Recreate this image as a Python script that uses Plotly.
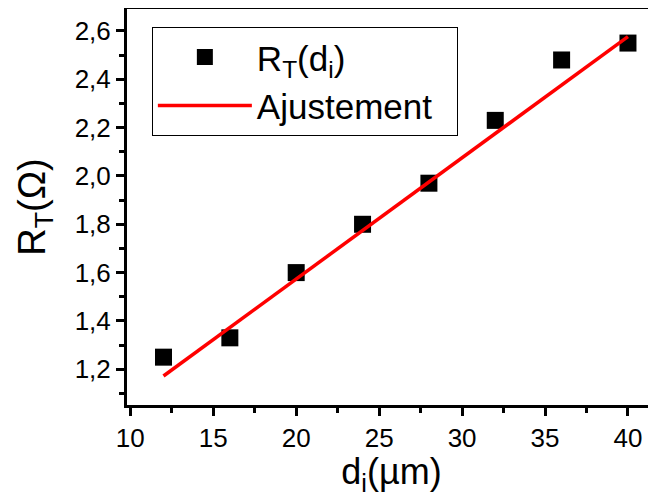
import plotly.graph_objects as go

d_i = [12, 16, 20, 24, 28, 32, 36, 40]
R_T = [1.25, 1.33, 1.60, 1.80, 1.97, 2.23, 2.48, 2.55]
fit_x = [12, 40]
fit_y = [1.172, 2.577]

FONT = "Liberation Sans, Arial, sans-serif"

fig = go.Figure()
fig.add_trace(go.Scatter(x=d_i, y=R_T, mode="markers", name="R<sub>T</sub>(d<sub>i</sub>)",
                         marker=dict(symbol="square", size=17, color="black")))
fig.add_trace(go.Scatter(x=fit_x, y=fit_y, mode="lines", name="Ajustement\u00a0\u00a0",
                         line=dict(color="red", width=3.5)))

# page body has an 8px margin, so the figure is sized/placed to compensate
fig.update_layout(
    width=648, height=489,
    margin=dict(l=119, r=0, t=1, b=92),
    paper_bgcolor="white", plot_bgcolor="white",
    separators=",.",
    font=dict(family=FONT, color="black"),
    showlegend=True,
    legend=dict(x=0.047, y=0.955, xanchor="left", yanchor="top",
                bordercolor="black", borderwidth=1, bgcolor="white",
                font=dict(size=35, family=FONT), itemwidth=94, tracegroupgap=0),
)
fig.update_xaxes(range=[9.80, 41.69], tickmode="linear", tick0=10, dtick=5,
                 showline=True, linecolor="black", linewidth=3, mirror=True,
                 ticks="outside", ticklen=8, tickwidth=2.5, tickcolor="black",
                 tickfont=dict(size=26), showgrid=False, zeroline=False, automargin=False,
                 minor=dict(ticks="outside", ticklen=5, tickwidth=2.5, tickcolor="black", dtick=2.5, showgrid=False),
                 title=dict(text="d<sub>i</sub>(µm)", font=dict(size=36), standoff=4))
fig.update_yaxes(range=[1.052, 2.691], tickmode="linear", tick0=1.2, dtick=0.2, tickformat=".1f",
                 showline=True, linecolor="black", linewidth=3, mirror=False,
                 ticks="outside", ticklen=8, tickwidth=2.5, tickcolor="black",
                 tickfont=dict(size=26), showgrid=False, zeroline=False, automargin=False,
                 minor=dict(ticks="outside", ticklen=5, tickwidth=2.5, tickcolor="black", dtick=0.1, showgrid=False),
                 title=dict(text="R<sub>T</sub>(Ω)", font=dict(size=38), standoff=18))

fig.write_html("out.html")
